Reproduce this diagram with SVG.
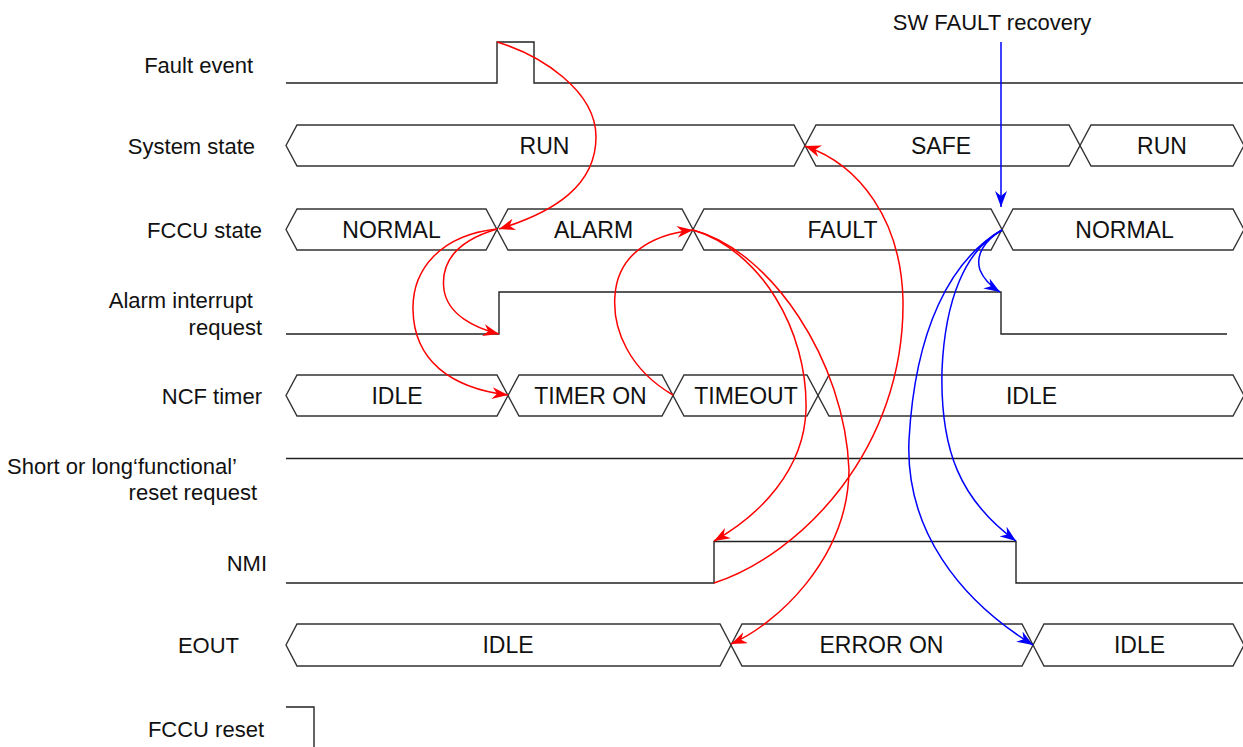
<svg xmlns="http://www.w3.org/2000/svg" width="1243" height="747" viewBox="0 0 1243 747">
<style>
  .lbl{font-family:"Liberation Sans",Arial,sans-serif;font-size:22px;fill:#111;text-anchor:end}
  .bl{font-family:"Liberation Sans",Arial,sans-serif;font-size:23px;fill:#111;text-anchor:middle}
  .sig{fill:none;stroke:#222;stroke-width:1.4;stroke-linejoin:miter}
  .bus{fill:none;stroke:#333;stroke-width:1.4}
  .red{fill:none;stroke:#ff0000;stroke-width:1.5}
  .blue{fill:none;stroke:#0000ff;stroke-width:1.5}
</style>
<defs>
  <marker id="ar" viewBox="0 0 16 12" refX="16" refY="6" markerWidth="16" markerHeight="12" markerUnits="userSpaceOnUse" orient="auto">
    <path d="M0,0 L16,6 L0,12 L5,6 Z" fill="#ff0000"/>
  </marker>
  <marker id="ab" viewBox="0 0 16 12" refX="16" refY="6" markerWidth="16" markerHeight="12" markerUnits="userSpaceOnUse" orient="auto">
    <path d="M0,0 L16,6 L0,12 L5,6 Z" fill="#0000ff"/>
  </marker>
</defs>
<rect width="1243" height="747" fill="#ffffff"/>

<g id="fault-event">
  <text class="lbl" x="253" y="73">Fault event</text>
  <polyline class="sig" points="286,83 497,83 497,42 534,42 534,83 1243,83"/>
</g>

<g id="system-state">
  <text class="lbl" x="255" y="154">System state</text>
  <polygon class="bus" points="286,145.5 297,125 794,125 805,145.5 794,166 297,166"/>
  <polygon class="bus" points="805,145.5 816,125 1069,125 1080,145.5 1069,166 816,166"/>
  <polygon class="bus" points="1080,145.5 1091,125 1233,125 1244,145.5 1233,166 1091,166"/>
  <text class="bl" x="544.5" y="154">RUN</text>
  <text class="bl" x="941" y="154">SAFE</text>
  <text class="bl" x="1162" y="154">RUN</text>
</g>

<g id="fccu-state">
  <text class="lbl" x="262" y="238">FCCU state</text>
  <polygon class="bus" points="286,229.5 297,209 486,209 497,229.5 486,250 297,250"/>
  <polygon class="bus" points="497,229.5 508,209 682,209 693,229.5 682,250 508,250"/>
  <polygon class="bus" points="693,229.5 704,209 991,209 1002,229.5 991,250 704,250"/>
  <polygon class="bus" points="1002,229.5 1013,209 1233,209 1244,229.5 1233,250 1013,250"/>
  <text class="bl" x="391.5" y="237.5">NORMAL</text>
  <text class="bl" x="593.5" y="237.5">ALARM</text>
  <text class="bl" x="842.5" y="237.5">FAULT</text>
  <text class="bl" x="1124.5" y="237.5">NORMAL</text>
</g>

<g id="alarm-interrupt">
  <text class="lbl" x="253" y="308">Alarm interrupt</text>
  <text class="lbl" x="262" y="335">request</text>
  <polyline class="sig" points="286,334 499,334 499,292 1001,292 1001,334 1227,334"/>
</g>

<g id="ncf-timer">
  <text class="lbl" x="262" y="404">NCF timer</text>
  <polygon class="bus" points="286,395.5 297,375 497,375 508,395.5 497,416 297,416"/>
  <polygon class="bus" points="508,395.5 519,375 662,375 673,395.5 662,416 519,416"/>
  <polygon class="bus" points="673,395.5 684,375 807,375 818,395.5 807,416 684,416"/>
  <polygon class="bus" points="818,395.5 829,375 1233,375 1244,395.5 1233,416 829,416"/>
  <text class="bl" x="397" y="404">IDLE</text>
  <text class="bl" x="590.5" y="404">TIMER ON</text>
  <text class="bl" x="746" y="404">TIMEOUT</text>
  <text class="bl" x="1031.5" y="404">IDLE</text>
</g>

<g id="reset-request">
  <text class="lbl" x="237" y="474">Short or long‘functional’</text>
  <text class="lbl" x="257" y="500">reset request</text>
  <line class="sig" x1="286" y1="458.5" x2="1243" y2="458.5"/>
</g>

<g id="nmi">
  <text class="lbl" x="267" y="571">NMI</text>
  <polyline class="sig" points="286,583 714,583 714,541.5 1016,541.5 1016,583 1243,583"/>
</g>

<g id="eout">
  <text class="lbl" x="239" y="653">EOUT</text>
  <polygon class="bus" points="286,645 297,624 720,624 731,645 720,666 297,666"/>
  <polygon class="bus" points="731,645 742,624 1022,624 1033,645 1022,666 742,666"/>
  <polygon class="bus" points="1033,645 1044,624 1233,624 1244,645 1233,666 1044,666"/>
  <text class="bl" x="508" y="653">IDLE</text>
  <text class="bl" x="881.5" y="653">ERROR ON</text>
  <text class="bl" x="1139.5" y="653">IDLE</text>
</g>

<g id="fccu-reset">
  <text class="lbl" x="264" y="737">FCCU reset</text>
  <polyline class="sig" points="286,707 314,707 314,747"/>
</g>

<g id="sw-fault-recovery">
  <text class="bl" x="992" y="30" style="font-size:22px">SW FAULT recovery</text>
</g>

<g id="connectors">
  <path class="red" marker-end="url(#ar)" d="M497,42 C540,55 596,90 596,137 C596,185 555,212 499,229"/>
  <path class="red" marker-end="url(#ar)" d="M497,229 C460,240 440,260 444,290 C448,315 475,328 499,334"/>
  <path class="red" marker-end="url(#ar)" d="M497,229 C440,235 412,270 413,310 C414,360 450,388 508,395"/>
  <path class="red" marker-end="url(#ar)" d="M673,395 C630,370 612,330 615,295 C618,255 650,235 693,230"/>
  <path class="red" marker-end="url(#ar)" d="M693,230 C760,250 808,330 806,410 C804,470 760,515 714,541"/>
  <path class="red" marker-end="url(#ar)" d="M693,230 C770,250 845,360 849,470 C848,560 775,625 731,644"/>
  <path class="red" marker-end="url(#ar)" d="M714,583 C800,555 905,450 903,300 C901,220 860,165 805,146"/>
  <path class="blue" marker-end="url(#ab)" d="M1001,42 L1001,207"/>
  <path class="blue" marker-end="url(#ab)" d="M1002,230 C985,240 975,255 980,270 C984,280 992,287 1000,292"/>
  <path class="blue" marker-end="url(#ab)" d="M1002,230 C965,250 945,300 942,370 C940,450 960,500 1016,541"/>
  <path class="blue" marker-end="url(#ab)" d="M1002,230 C950,260 915,330 909,440 C905,530 960,600 1033,645"/>
</g>
</svg>
